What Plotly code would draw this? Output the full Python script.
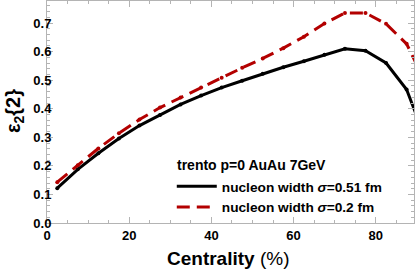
import plotly.graph_objects as go

centrality = [2.5, 7.5, 12.5, 17.5, 22.5, 27.5, 32.5, 37.5, 42.5, 47.5,
              52.5, 57.5, 62.5, 67.5, 72.5, 77.5, 82.5, 87.5, 92.5]
eps_w051 = [0.122, 0.188, 0.244, 0.296, 0.341, 0.378, 0.415, 0.446, 0.474, 0.498,
            0.522, 0.545, 0.566, 0.589, 0.610, 0.603, 0.560, 0.467, 0.28]
eps_w02 = [0.143, 0.202, 0.261, 0.314, 0.362, 0.404, 0.439, 0.474, 0.508, 0.543,
           0.576, 0.612, 0.652, 0.698, 0.735, 0.735, 0.697, 0.627, 0.48]
legend_title = "trento p=0 AuAu 7GeV"
name_w051 = "nucleon width <i>σ</i>=0.51 fm"
name_w02 = "nucleon width <i>σ</i>=0.2 fm"

FONT = "Liberation Sans"
frame = "#b4b4b4"
RED = "#b30000"

fig = go.Figure()
fig.add_trace(go.Scatter(x=centrality, y=eps_w051, mode="lines+markers", showlegend=False,
                         line=dict(color="black", width=3),
                         marker=dict(color="black", size=4)))
fig.add_trace(go.Scatter(x=centrality, y=eps_w02, mode="lines+markers", showlegend=False,
                         line=dict(color=RED, width=3, dash="13px,7px"),
                         marker=dict(color=RED, size=4)))
# legend entries (lines only)
fig.add_trace(go.Scatter(x=[None], y=[None], mode="lines", name=name_w051,
                         line=dict(color="black", width=3)))
fig.add_trace(go.Scatter(x=[None], y=[None], mode="lines", name=name_w02,
                         line=dict(color=RED, width=3, dash="13px,7px")))

axis_common = dict(showline=True, linecolor=frame, linewidth=1, mirror="ticks",
                   ticks="inside", tickcolor=frame, ticklen=6, tickwidth=1,
                   showgrid=False, zeroline=False,
                   tickfont=dict(family=FONT, size=13, color="black", weight="bold"))

fig.update_xaxes(range=[0, 89.3], tickvals=[0, 20, 40, 60, 80],
                 minor=dict(ticks="inside", ticklen=3, tickcolor=frame, dtick=5, tick0=0, showgrid=False),
                 **axis_common)
fig.update_yaxes(range=[0, 0.777], tickvals=[0, 0.1, 0.2, 0.3, 0.4, 0.5, 0.6, 0.7],
                 tickformat=".1f", ticklabelstandoff=-8,
                 minor=dict(ticks="inside", ticklen=3, tickcolor=frame, dtick=0.02, tick0=0, showgrid=False),
                 **axis_common)

fig.update_layout(
    width=415, height=273,
    margin=dict(l=47, r=1, t=1, b=50),
    plot_bgcolor="white", paper_bgcolor="white",
    showlegend=True,
    legend=dict(x=0.34, y=0.235, xanchor="left", yanchor="top",
                bgcolor="rgba(0,0,0,0)",
                font=dict(family=FONT, size=13.7, color="black", weight="bold"),
                tracegroupgap=0, itemwidth=40),
    annotations=[
        dict(text="<b>" + legend_title + "</b>", xref="paper", yref="paper",
             x=(175 - 47) / 367, y=(223 - 165) / 222, xanchor="left", yanchor="middle",
             showarrow=False, font=dict(family=FONT, size=14, color="black")),
        dict(text="<b>Centrality</b> (%)", xref="paper", yref="paper", x=0.493, y=-0.158,
             xanchor="center", yanchor="middle", showarrow=False,
             font=dict(family=FONT, size=19, color="black")),
        dict(text="<b>ε<sub>2</sub>{2}</b>", xref="paper", x=-0.087, yref="paper", y=0.505,
             xanchor="center", yanchor="middle", showarrow=False, textangle=-90,
             font=dict(family=FONT, size=20, color="black")),
    ],
)

fig.write_html("out.html", config={"displayModeBar": False},
               post_script="document.body.style.margin='0px';")
